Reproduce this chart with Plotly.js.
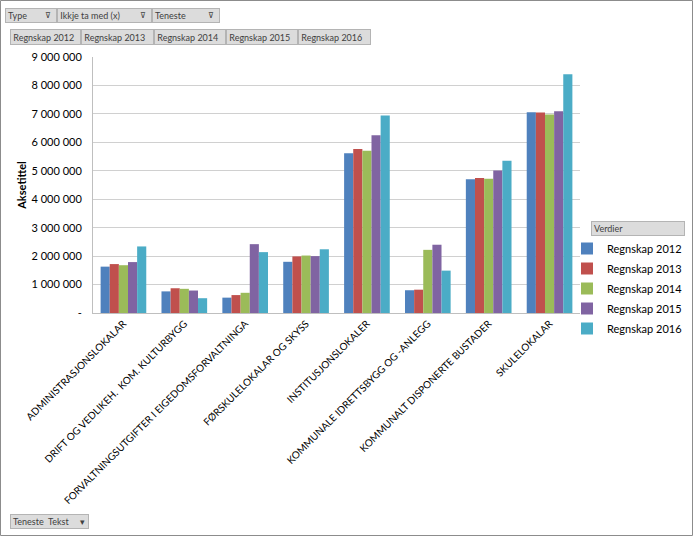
<!DOCTYPE html>
<html>
<head>
<meta charset="utf-8">
<script src="https://cdn.plot.ly/plotly-3.0.1.min.js"></script>
<style>
  html, body { margin: 0; padding: 0; background: #fff; }
  #chart { width: 693px; height: 536px; }
</style>
</head>
<body>
<div id="chart"></div>
<script>
// ==================== DATA ====================
const categories = [
  'ADMINISTRASJONSLOKALAR',
  'DRIFT OG VEDLIKEH.  KOM. KULTURBYGG',
  'FORVALTNINGSUTGIFTER I EIGEDOMSFORVALTNINGA',
  'FØRSKULELOKALAR OG SKYSS',
  'INSTITUSJONSLOKALER',
  'KOMMUNALE IDRETTSBYGG OG -ANLEGG',
  'KOMMUNALT DISPONERTE BUSTADER',
  'SKULELOKALAR'
];
const seriesNames = ['Regnskap 2012', 'Regnskap 2013', 'Regnskap 2014', 'Regnskap 2015', 'Regnskap 2016'];
const regnskap2012 = [1630000, 760000, 540000, 1800000, 5620000, 800000, 4700000, 7060000];
const regnskap2013 = [1720000, 870000, 630000, 1990000, 5770000, 820000, 4750000, 7050000];
const regnskap2014 = [1680000, 850000, 710000, 2020000, 5700000, 2220000, 4720000, 6980000];
const regnskap2015 = [1790000, 790000, 2420000, 2000000, 6250000, 2400000, 5010000, 7090000];
const regnskap2016 = [2340000, 520000, 2140000, 2240000, 6940000, 1490000, 5350000, 8390000];
const tickValues = [0, 1000000, 2000000, 3000000, 4000000, 5000000, 6000000, 7000000, 8000000, 9000000];
const tickLabels = ['-', '1 000 000', '2 000 000', '3 000 000', '4 000 000', '5 000 000',
                    '6 000 000', '7 000 000', '8 000 000', '9 000 000'];
const colors = ['#4F81BD', '#C0504D', '#9BBB59', '#8064A2', '#4BACC6'];

// pivot field buttons (text only)
const filterFields = ['Type', 'Ikkje ta med (x)', 'Teneste'];

// ==================== LAYOUT HELPERS ====================
const L = 93, R = 580, T = 57, B = 313;
const px = x => (x - L) / (R - L);
const py = y => (B - y) / (B - T);

function button(text, x0, x1, y0, y1) {
  return {
    xref: 'paper', yref: 'paper',
    x: px(x0), y: py(y0), xanchor: 'left', yanchor: 'top',
    width: x1 - x0 - 2, height: y1 - y0 - 2,
    text: text, showarrow: false, align: 'left', valign: 'middle',
    bgcolor: '#dcdcdc', bordercolor: '#b4b4b4', borderwidth: 1, borderpad: 0,
    font: { family: 'Lato, Liberation Sans, sans-serif', size: 9, color: '#404040' }
  };
}

// ==================== PLOT ====================
const allSeries = [regnskap2012, regnskap2013, regnskap2014, regnskap2015, regnskap2016];
const data = allSeries.map((vals, i) => ({
  type: 'bar',
  name: seriesNames[i],
  legendgroup: 'g' + i,
  x: categories,
  y: vals,
  marker: { color: colors[i] },
  hoverinfo: 'skip'
}));

const annotations = [];
const filterBoxes = [[5, 57], [57, 152], [152, 220]];
filterFields.forEach((f, i) => {
  annotations.push(button(' ' + f, filterBoxes[i][0], filterBoxes[i][1], 8, 23));
  annotations.push({
    xref: 'paper', yref: 'paper', x: px(filterBoxes[i][1] - 4), y: py(15),
    xanchor: 'right', yanchor: 'middle', text: '⊽', showarrow: false,
    font: { family: 'DejaVu Sans, sans-serif', size: 8, color: '#404040' }
  });
});
const valueBoxes = [[10, 81], [81, 154], [154, 226], [226, 298], [298, 371]];
seriesNames.forEach((s, i) => {
  annotations.push(button(' ' + s, valueBoxes[i][0], valueBoxes[i][1], 29, 45));
});
annotations.push(button(' Teneste  Tekst', 10, 89, 514, 529));
annotations.push({
  xref: 'paper', yref: 'paper', x: px(82), y: py(521.5),
  xanchor: 'center', yanchor: 'middle', text: '▾', showarrow: false,
  font: { family: 'DejaVu Sans, sans-serif', size: 9, color: '#404040' }
});
annotations.push(button(' Verdier', 591, 685, 221, 236));

const layout = {
  width: 693,
  height: 536,
  margin: { l: L, r: 693 - R, t: T, b: 536 - B, autoexpand: false },
  paper_bgcolor: '#ffffff',
  plot_bgcolor: '#ffffff',
  barmode: 'group',
  bargap: 0.25,
  bargroupgap: 0,
  font: { family: 'Lato, Liberation Sans, sans-serif', size: 11, color: '#000' },
  xaxis: {
    tickangle: -45,
    tickfont: { size: 10, color: '#000' },
    showline: true, linecolor: '#bfbfbf', linewidth: 1,
    ticks: '', automargin: false
  },
  yaxis: {
    range: [0, 9000000],
    tickvals: tickValues,
    ticktext: tickLabels,
    tickfont: { size: 11, color: '#000' },
    showgrid: true, gridcolor: '#d0d0d0',
    showline: true, linecolor: '#bfbfbf', linewidth: 1,
    zeroline: false, ticks: '', ticklabelstandoff: 8,
    automargin: false,
    title: { text: '<b>Aksetittel</b>', font: { size: 11, color: '#000' }, standoff: 2 }
  },
  legend: {
    x: px(567), y: py(234), xanchor: 'left', yanchor: 'top',
    font: { size: 11, color: '#000' },
    bgcolor: 'rgba(0,0,0,0)',
    itemwidth: 30,
    tracegroupgap: 1
  },
  annotations: annotations,
  shapes: [{
    type: 'rect', xref: 'paper', yref: 'paper',
    x0: px(0.5), x1: px(692.5), y0: py(0.5), y1: py(535.5),
    line: { color: '#8c8c8c', width: 1 }
  }]
};

Plotly.newPlot('chart', data, layout, { displayModeBar: false, staticPlot: true });
</script>
</body>
</html>
